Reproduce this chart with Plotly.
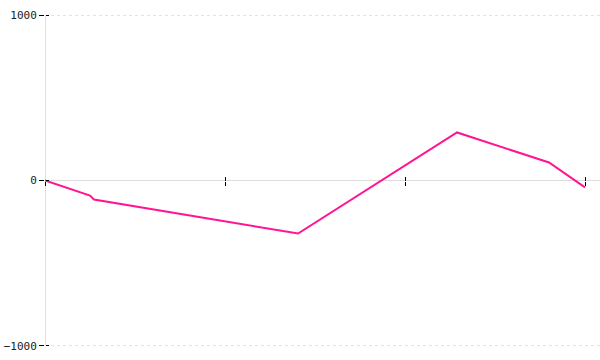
import plotly.graph_objects as go

x_vals = [0, 0.25, 0.272, 1.406, 2.289, 2.8, 3.0]
y_vals = [0, -91, -115, -321, 291, 109, -42]
x_ticks = [0, 1, 2, 3]
y_ticks = [-1000, 0, 1000]
y_labels = ["−1000", "0", "1000"]

fig = go.Figure()
# invisible twin on the overlay axes so their crossing ticks are drawn
fig.add_trace(go.Scatter(x=x_vals, y=y_vals, mode="lines", xaxis="x2", yaxis="y2",
                         line=dict(color="rgba(0,0,0,0)", width=0), showlegend=False,
                         hoverinfo="skip"))
fig.add_trace(go.Scatter(x=x_vals, y=y_vals, mode="lines",
                         line=dict(color="#ff1493", width=2), showlegend=False,
                         hoverinfo="skip"))

font = dict(family="DejaVu Sans Mono", size=11, color="#222")
yr = [-1020, 1020]
fig.update_layout(
    width=600, height=360,
    margin=dict(l=45, r=0, t=12, b=11),
    paper_bgcolor="white", plot_bgcolor="white",
    xaxis=dict(range=[0, 3.0833], tickvals=x_ticks, showticklabels=False,
               ticks="outside", ticklen=4, tickcolor="black", tickwidth=1,
               showgrid=False, zeroline=False, showline=False,
               anchor="free", position=0.5),
    xaxis2=dict(range=[0, 3.0833], tickvals=x_ticks, showticklabels=False,
                ticks="inside", ticklen=4, tickcolor="black", tickwidth=1,
                showgrid=False, zeroline=False, showline=False,
                overlaying="x", anchor="free", position=0.5),
    yaxis=dict(range=yr, tickvals=y_ticks, ticktext=y_labels,
               ticks="outside", ticklen=5, tickcolor="black", tickwidth=1,
               tickfont=font, showline=False,
               showgrid=True, gridcolor="#e2e2e2", griddash="dot", gridwidth=1,
               zeroline=True, zerolinecolor="#dddddd", zerolinewidth=1),
    yaxis2=dict(range=yr, tickvals=y_ticks, showticklabels=False,
                ticks="inside", ticklen=3, tickcolor="black", tickwidth=1,
                showgrid=False, zeroline=False, showline=False,
                overlaying="y", anchor="free", position=0),
)
# vertical axis line along the left edge, spanning the value ticks
fig.add_shape(type="line", xref="x", yref="y", x0=x_ticks[0], x1=x_ticks[0],
              y0=y_ticks[0], y1=y_ticks[-1], line=dict(color="#d6d6d6", width=1.5),
              layer="below")

fig.write_html("out.html")
